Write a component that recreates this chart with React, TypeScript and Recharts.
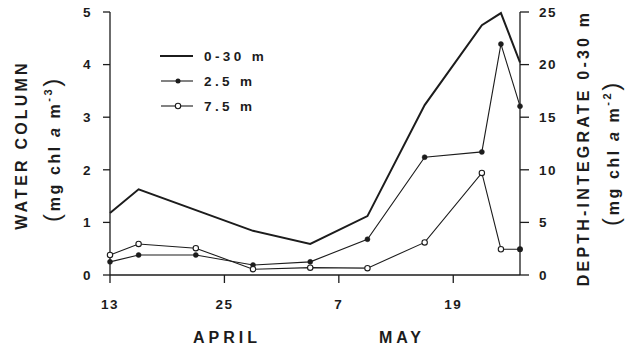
import React from 'react';
import { ComposedChart, Line, XAxis, YAxis } from 'recharts';

const days = [0, 3, 9, 15, 21, 27, 33, 39, 41, 43];
const integrated030 = [5.9, 8.15, null, 4.2, 2.95, 5.6, 16.15, 23.75, 24.9, 20.2];
const depth25 = [0.25, 0.38, 0.38, 0.19, 0.25, 0.68, 2.24, 2.34, 4.39, 3.21];
const depth75 = [0.38, 0.59, 0.51, 0.11, 0.14, 0.13, 0.62, 1.94, 0.49, 0.49];
const xTicks = [0, 12, 24, 36];
const xTickLabels = ['13', '25', '7', '19'];
const leftTicks = [0, 1, 2, 3, 4, 5];
const rightTicks = [0, 5, 10, 15, 20, 25];

const data = days.map((d, i) => ({
  day: d,
  int: integrated030[i],
  m25: depth25[i],
  m75: depth75[i],
}));

const INK = '#1c1c1c';
const FONT = '"Liberation Sans", Arial, sans-serif';
const tickStyle = { fill: INK, fontSize: 13.5, fontWeight: 700, fontFamily: FONT, letterSpacing: 1.5 };

const OpenDot = (props: any) => {
  const { cx, cy, index } = props;
  if (cx == null || cy == null) return null;
  const last = index === days.length - 1;
  return (
    <circle
      key={`o${index}`}
      cx={cx}
      cy={cy}
      r={last ? 2.4 : 2.7}
      fill={last ? INK : '#fff'}
      stroke={INK}
      strokeWidth={1.1}
    />
  );
};

const FilledDot = (props: any) => {
  const { cx, cy, index } = props;
  if (cx == null || cy == null) return null;
  return <circle key={`f${index}`} cx={cx} cy={cy} r={2.5} fill={INK} stroke={INK} strokeWidth={0.5} />;
};

const titleStyle: any = { fill: INK, fontSize: 16, fontWeight: 700, fontFamily: FONT, letterSpacing: 3.2 };
const unitStyle: any = { fill: INK, fontSize: 16, fontWeight: 700, fontFamily: FONT, letterSpacing: 2.6 };

export default function App() {
  return (
    <div style={{ position: 'absolute', left: 0, top: 0, width: 628, height: 347, background: '#fff' }}>
      <ComposedChart
        width={628}
        height={347}
        data={data}
        margin={{ top: 12, left: 50, right: 48, bottom: 42 }}
      >
        <XAxis
          dataKey="day"
          type="number"
          domain={[0, 43]}
          ticks={xTicks}
          tickFormatter={(v: number) => xTickLabels[xTicks.indexOf(v)] ?? ''}
          height={30}
          tickSize={8}
          tickMargin={16}
          tick={tickStyle}
          stroke={INK}
          axisLine={{ stroke: INK, strokeWidth: 1.3 }}
          tickLine={{ stroke: INK, strokeWidth: 1.3 }}
        />
        <YAxis
          yAxisId="left"
          domain={[0, 5]}
          ticks={leftTicks}
          width={60}
          tickSize={7}
          tickMargin={11}
          tick={tickStyle}
          axisLine={{ stroke: INK, strokeWidth: 1.3 }}
          tickLine={{ stroke: INK, strokeWidth: 1.3 }}
        />
        <YAxis
          yAxisId="right"
          orientation="right"
          domain={[0, 25]}
          ticks={rightTicks}
          width={60}
          tickSize={9}
          tickMargin={10}
          tick={tickStyle}
          axisLine={{ stroke: INK, strokeWidth: 1.3 }}
          tickLine={{ stroke: INK, strokeWidth: 1.3 }}
        />
        <Line
          yAxisId="right"
          dataKey="int"
          type="linear"
          stroke={INK}
          strokeWidth={2}
          dot={false}
          connectNulls
          isAnimationActive={false}
        />
        <Line
          yAxisId="left"
          dataKey="m25"
          type="linear"
          stroke={INK}
          strokeWidth={1.1}
          dot={FilledDot}
          isAnimationActive={false}
        />
        <Line
          yAxisId="left"
          dataKey="m75"
          type="linear"
          stroke={INK}
          strokeWidth={1.1}
          dot={OpenDot}
          isAnimationActive={false}
        />
      </ComposedChart>
      <svg
        width={628}
        height={347}
        style={{ position: 'absolute', left: 0, top: 0, pointerEvents: 'none' }}
      >
        {/* legend */}
        <line x1={160} y1={56} x2={193} y2={56} stroke={INK} strokeWidth={2} />
        <line x1={161} y1={81} x2={193} y2={81} stroke={INK} strokeWidth={1.1} />
        <circle cx={178} cy={81} r={2.5} fill={INK} />
        <line x1={161} y1={106} x2={193} y2={106} stroke={INK} strokeWidth={1.1} />
        <circle cx={178} cy={106} r={2.7} fill="#fff" stroke={INK} strokeWidth={1.1} />
        <text x={204} y={61} style={{ ...tickStyle, letterSpacing: 3.4 }}>0-30 m</text>
        <text x={204} y={86} style={{ ...tickStyle, letterSpacing: 3.4 }}>2.5 m</text>
        <text x={204} y={111} style={{ ...tickStyle, letterSpacing: 3.4 }}>7.5 m</text>

        {/* month labels */}
        <text x={227} y={343} textAnchor="middle" style={{ ...titleStyle, letterSpacing: 4 }}>APRIL</text>
        <text x={402} y={343} textAnchor="middle" style={{ ...titleStyle, letterSpacing: 4 }}>MAY</text>

        {/* left titles */}
        <text transform="translate(27,145) rotate(-90)" textAnchor="middle" style={titleStyle}>WATER COLUMN</text>
        <text transform="translate(60,149) rotate(-90)" textAnchor="middle" style={unitStyle}>
          <tspan fontSize={24} fontWeight={400}>(</tspan>
          <tspan>mg chl </tspan>
          <tspan fontStyle="italic">a</tspan>
          <tspan> m</tspan>
          <tspan fontSize={11} dy={-8}>-3</tspan>
          <tspan fontSize={24} fontWeight={400} dy={8}>)</tspan>
        </text>

        {/* right titles */}
        <text transform="translate(589,148) rotate(-90)" textAnchor="middle" style={titleStyle}>DEPTH-INTEGRATE  0-30 m</text>
        <text transform="translate(619,153) rotate(-90)" textAnchor="middle" style={unitStyle}>
          <tspan fontSize={24} fontWeight={400}>(</tspan>
          <tspan>mg chl </tspan>
          <tspan fontStyle="italic">a</tspan>
          <tspan> m</tspan>
          <tspan fontSize={11} dy={-8}>-2</tspan>
          <tspan fontSize={24} fontWeight={400} dy={8}>)</tspan>
        </text>
      </svg>
    </div>
  );
}
